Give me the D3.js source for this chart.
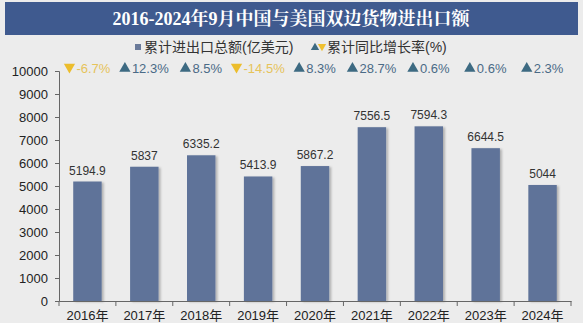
<!DOCTYPE html>
<html><head><meta charset="utf-8">
<script src="https://cdn.jsdelivr.net/npm/d3@7"></script>
<style>
html,body{margin:0;padding:0;background:#ececec;}
svg{display:block;}
</style></head>
<body>
<script>
const years = ["2016年","2017年","2018年","2019年","2020年","2021年","2022年","2023年","2024年"];
const totals = [5194.9, 5837, 6335.2, 5413.9, 5867.2, 7556.5, 7594.3, 6644.5, 5044];
const totalLabels = ["5194.9","5837","6335.2","5413.9","5867.2","7556.5","7594.3","6644.5","5044"];
const growth = [-6.7, 12.3, 8.5, -14.5, 8.3, 28.7, 0.6, 0.6, 2.3];
const growthLabels = ["-6.7%","12.3%","8.5%","-14.5%","8.3%","28.7%","0.6%","0.6%","2.3%"];
const yTicks = [0,1000,2000,3000,4000,5000,6000,7000,8000,9000,10000];
const titleText = "2016-2024年9月中国与美国双边货物进出口额";
const legendBar = "累计进出口总额(亿美元)";
const legendLine = "累计同比增长率(%)";

const W = 583, H = 323;
const svg = d3.select("body").append("svg").attr("width", W).attr("height", H);
svg.append("rect").attr("width", W).attr("height", H).attr("fill", "#ececec");

// title banner
svg.append("rect").attr("x", 5).attr("y", 2).attr("width", 573).attr("height", 33).attr("fill", "#3f5a8f");
svg.append("text").attr("x", 291).attr("y", 25).attr("text-anchor", "middle")
  .attr("fill", "#fff").attr("font-size", 18).attr("font-weight", "bold")
  .attr("font-family", "'Liberation Serif','Noto Serif CJK SC','Noto Sans CJK SC',serif")
  .text(titleText);

const x = d3.scaleBand().domain(years).range([59, 571]).paddingInner(0.5).paddingOuter(0.25);
const y = d3.scaleLinear().domain([0, 10000]).range([301, 71]);

const font = "'Liberation Sans','Noto Sans CJK SC',Arial,sans-serif";

// bars with shadow
const defs = svg.append("defs");
const f = defs.append("filter").attr("id","sh").attr("x","-20%").attr("y","-5%").attr("width","160%").attr("height","120%");
f.append("feDropShadow").attr("dx",2).attr("dy",1).attr("stdDeviation",1.2).attr("flood-color","#000").attr("flood-opacity",0.25);

svg.append("g").selectAll("rect").data(totals).join("rect")
  .attr("x", (d,i) => x(years[i]))
  .attr("y", d => y(d))
  .attr("width", x.bandwidth())
  .attr("height", d => y(0) - y(d))
  .attr("fill", "#5f7399")
  .attr("filter","url(#sh)");

svg.append("g").selectAll("text").data(totals).join("text")
  .attr("x", (d,i) => x(years[i]) + x.bandwidth()/2)
  .attr("y", d => y(d) - 7)
  .attr("text-anchor","middle").attr("font-size", 12).attr("fill","#333")
  .attr("font-family", font)
  .text((d,i) => totalLabels[i]);

// axes
const yAxis = svg.append("g").attr("transform","translate(59,0)")
  .call(d3.axisLeft(y).tickValues(yTicks).tickSize(4).tickFormat(d3.format("d")));
yAxis.select(".domain").attr("stroke","#666");
yAxis.selectAll(".tick line").attr("stroke","#666");
yAxis.selectAll(".tick text").attr("font-size",13).attr("fill","#222").attr("font-family",font).attr("dx",-4);

const xAxis = svg.append("g").attr("transform","translate(0,301)")
  .call(d3.axisBottom(x).tickSize(0));
xAxis.select(".domain").attr("stroke","#666");
xAxis.selectAll(".tick text").attr("font-size",13).attr("fill","#222").attr("font-family",font).attr("dy","1.25em");
// category separator ticks
const seps = d3.range(years.length + 1).map(i => 59 + i * (512/years.length));
svg.append("g").selectAll("line").data(seps).join("line")
  .attr("x1", d=>d).attr("x2", d=>d).attr("y1",301).attr("y2",306).attr("stroke","#666");

// legend
const lg = svg.append("g").attr("font-family", font).attr("font-size", 14).attr("fill","#333");
lg.append("rect").attr("x",135).attr("y",44).attr("width",6).attr("height",6).attr("fill","#6a7a99");
lg.append("text").attr("x",144).attr("y",52).attr("fill","#333").text(legendBar);
const tri = d3.symbol().type(d3.symbolTriangle).size(30);
lg.append("path").attr("d", tri()).attr("transform","translate(315,47.5)").attr("fill","#3d6a82");
lg.append("path").attr("d", tri()).attr("transform","translate(322,46.5) rotate(180)").attr("fill","#f0c030");
lg.append("text").attr("x",327).attr("y",52).attr("fill","#333").text(legendLine);

// growth row
const gr = svg.append("g").attr("font-family", font).attr("font-size", 13);
growth.forEach((g,i) => {
  const cx = x(years[i]) + x.bandwidth()/2;
  const neg = g < 0;
  const t = gr.append("text").attr("x", cx + 6).attr("y", 73).attr("text-anchor","middle")
    .attr("fill", neg ? "#e6c35a" : "#4a6a86").text(growthLabels[i]);
  const w = t.node().getComputedTextLength();
  gr.append("path").attr("d", d3.symbol().type(d3.symbolTriangle).size(55)())
    .attr("transform", `translate(${cx + 6 - w/2 - 7},${neg ? 67 : 68.5}) ${neg ? "rotate(180)" : ""}`)
    .attr("fill", neg ? "#ecbd2c" : "#3d6a82");
});
</script>
</body></html>
